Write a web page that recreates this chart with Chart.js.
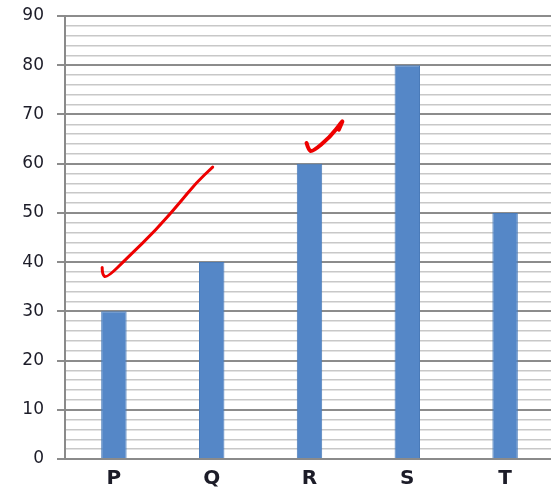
<!DOCTYPE html>
<html>
<head>
<meta charset="utf-8">
<script src="https://cdn.jsdelivr.net/npm/chart.js@4.4.1/dist/chart.umd.min.js"></script>
<style>
  html, body { margin: 0; padding: 0; background: #fff; overflow: hidden; }
  #wrap { width: 554px; height: 492px; position: relative; }
</style>
</head>
<body>
<div id="wrap"><canvas id="c"></canvas></div>
<script>
// Categories and values
const categories = ['P', 'Q', 'R', 'S', 'T'];
const values = [30, 40, 60, 80, 50];

// Y axis range: labelled every 10, fine grid every 2
const yMin = 0;
const yMax = 90;
const yStep = 2;
const yLabelEvery = 10;

// Hand-drawn tick marks, given in (category index, value) coordinates
const checkMarkA = [[-0.12, 38.9], [-0.12, 37.4], [-0.07, 36.8], [0.15, 41.1], [0.43, 46.5], [0.67, 52.0], [0.84, 56.1], [1.01, 59.3]];
const checkMarkB = [[1.97, 64.2], [1.99, 62.8], [2.03, 62.4], [2.21, 65.4], [2.33, 68.5], [2.34, 68.7], [2.3, 66.9]];

const handDrawn = {
  id: 'handDrawn',
  afterDatasetsDraw(chart) {
    const { ctx, scales: { x, y } } = chart;
    const toPx = ([i, v]) => [x.getPixelForValue(i), y.getPixelForValue(v)];
    ctx.save();
    ctx.strokeStyle = '#ee0000';
    ctx.lineCap = 'round';
    ctx.lineJoin = 'round';
    [[checkMarkA, 3], [checkMarkB, 4]].forEach(([path, w]) => {
      const pts = path.map(toPx);
      ctx.lineWidth = w;
      ctx.beginPath();
      ctx.moveTo(pts[0][0], pts[0][1]);
      for (let k = 1; k < pts.length - 1; k++) {
        const mx = (pts[k][0] + pts[k + 1][0]) / 2;
        const my = (pts[k][1] + pts[k + 1][1]) / 2;
        ctx.quadraticCurveTo(pts[k][0], pts[k][1], mx, my);
      }
      const last = pts[pts.length - 1];
      ctx.lineTo(last[0], last[1]);
      ctx.stroke();
    });
    ctx.restore();
  }
};

new Chart(document.getElementById('c'), {
  type: 'bar',
  data: {
    labels: categories,
    datasets: [{
      data: values,
      backgroundColor: '#5587c7',
      borderColor: '#4a7bb9',
      borderWidth: 1,
      categoryPercentage: 1,
      barPercentage: 0.26
    }]
  },
  options: {
    responsive: true,
    maintainAspectRatio: false,
    animation: false,
    layout: { padding: { top: 16, right: 0, left: 0, bottom: 0 } },
    plugins: { legend: { display: false }, tooltip: { enabled: false } },
    scales: {
      x: {
        afterFit: s => { s.height = 33; s.paddingLeft = 0; s.paddingRight = 0; },
        grid: { display: false, drawTicks: false },
        border: { display: true, color: '#8a8a8a', width: 2 },
        ticks: {
          padding: 8,
          color: '#1c1c28',
          font: { family: 'DejaVu Sans, Verdana, sans-serif', size: 20, weight: 'bold' }
        }
      },
      y: {
        min: yMin,
        max: yMax,
        afterFit: s => { s.width = 65; s.paddingTop = 0; s.paddingBottom = 0; },
        border: { display: true, color: '#8a8a8a', width: 2 },
        grid: {
          color: c => (c.tick && c.tick.value % yLabelEvery === 0) ? '#8c8c8c' : '#c8c8c8',
          lineWidth: c => (c.tick && c.tick.value % yLabelEvery === 0) ? 2 : 1.5,
          tickColor: c => (c.tick && c.tick.value % yLabelEvery === 0) ? '#8c8c8c' : 'rgba(0,0,0,0)',
          tickLength: 8
        },
        ticks: {
          stepSize: yStep,
          autoSkip: false,
          padding: 13,
          color: '#1c1c28',
          font: { family: 'DejaVu Sans, Verdana, sans-serif', size: 17 },
          callback: v => (v % yLabelEvery === 0 ? String(v) : '')
        }
      }
    }
  },
  plugins: [handDrawn]
});
</script>
</body>
</html>
